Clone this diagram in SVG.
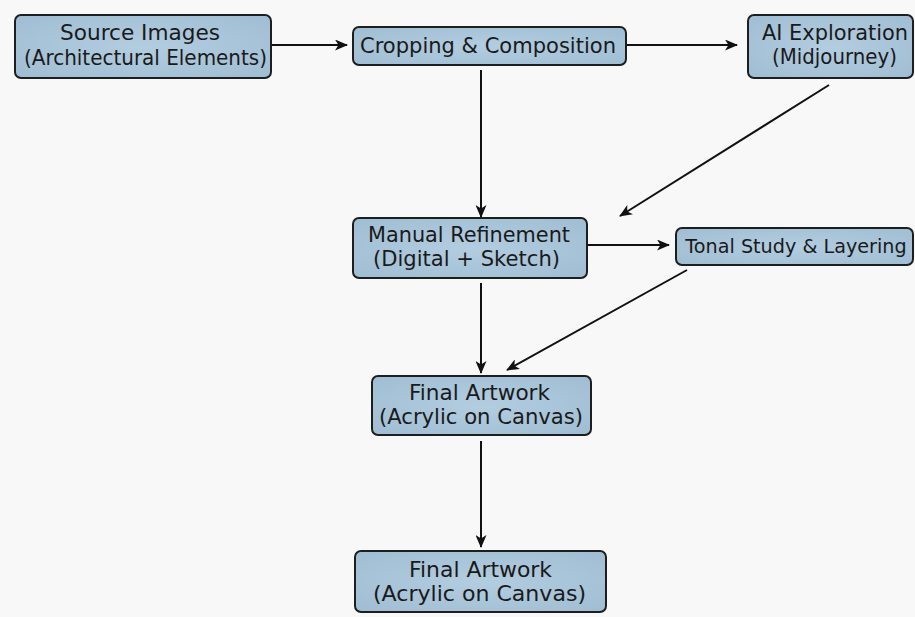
<svg xmlns="http://www.w3.org/2000/svg" width="915" height="617" viewBox="0 0 915 617">
<defs>
<style>
.box{fill:url(#g);stroke:#1e1e1e;stroke-width:2}
.t{font-family:"DejaVu Sans","Noto Sans",sans-serif;font-size:21px;fill:#1a1a1a;text-anchor:middle}
.c{stroke:#111;stroke-width:2;fill:none;marker-end:url(#ah)}
</style>
<radialGradient id="g" cx="50%" cy="50%" r="70%">
<stop offset="0" stop-color="#b3cde0"/>
<stop offset="1" stop-color="#9fbdd3"/>
</radialGradient>
<marker id="ah" viewBox="0 0 13 11" refX="12" refY="5.5" markerWidth="13" markerHeight="11" markerUnits="userSpaceOnUse" orient="auto">
<path d="M0,0 L13,5.5 L0,11 L3.5,5.5 z" fill="#111"/>
</marker>
</defs>
<rect width="915" height="617" fill="#f8f8f8"/>
<g id="connectors">
<line class="c" x1="256" y1="45" x2="347" y2="45"/>
<line class="c" x1="626" y1="45" x2="737" y2="45"/>
<line class="c" x1="481" y1="70" x2="481" y2="217"/>
<line class="c" x1="829" y1="85" x2="620" y2="216"/>
<line class="c" x1="588" y1="245" x2="669" y2="245"/>
<line class="c" x1="481" y1="283" x2="481" y2="373"/>
<line class="c" x1="687" y1="270" x2="507" y2="370"/>
<line class="c" x1="481" y1="441" x2="481" y2="547"/>
</g>
<g id="source">
<rect class="box" x="15" y="15" width="256" height="63" rx="6"/>
<text class="t" x="140" y="40" textLength="160" lengthAdjust="spacingAndGlyphs">Source Images</text>
<text class="t" x="145.5" y="65" textLength="243" lengthAdjust="spacingAndGlyphs">(Architectural Elements)</text>
</g>
<g id="cropping">
<rect class="box" x="353" y="27" width="273" height="38" rx="6"/>
<text class="t" x="488" y="53" textLength="256" lengthAdjust="spacingAndGlyphs">Cropping &amp; Composition</text>
</g>
<g id="ai">
<rect class="box" x="748" y="15" width="165" height="63" rx="6"/>
<text class="t" x="835" y="40" textLength="146" lengthAdjust="spacingAndGlyphs">AI Exploration</text>
<text class="t" x="834.5" y="64" textLength="125" lengthAdjust="spacingAndGlyphs">(Midjourney)</text>
</g>
<g id="manual">
<rect class="box" x="353" y="218" width="234" height="60" rx="6"/>
<text class="t" x="469" y="242" textLength="202" lengthAdjust="spacingAndGlyphs">Manual Refinement</text>
<text class="t" x="466.5" y="266" textLength="187" lengthAdjust="spacingAndGlyphs">(Digital + Sketch)</text>
</g>
<g id="tonal">
<rect class="box" x="676" y="228" width="237" height="37" rx="6"/>
<text class="t" x="796" y="253" style="font-size:19.2px">Tonal Study &amp; Layering</text>
</g>
<g id="final1">
<rect class="box" x="372" y="376" width="219" height="59" rx="6"/>
<text class="t" x="479.5" y="400" textLength="141" lengthAdjust="spacingAndGlyphs">Final Artwork</text>
<text class="t" x="481" y="424" textLength="204" lengthAdjust="spacingAndGlyphs">(Acrylic on Canvas)</text>
</g>
<g id="final2">
<rect class="box" x="355" y="551" width="251" height="61" rx="6"/>
<text class="t" x="480.5" y="577" textLength="143" lengthAdjust="spacingAndGlyphs">Final Artwork</text>
<text class="t" x="479.5" y="601" textLength="213" lengthAdjust="spacingAndGlyphs">(Acrylic on Canvas)</text>
</g>
</svg>
